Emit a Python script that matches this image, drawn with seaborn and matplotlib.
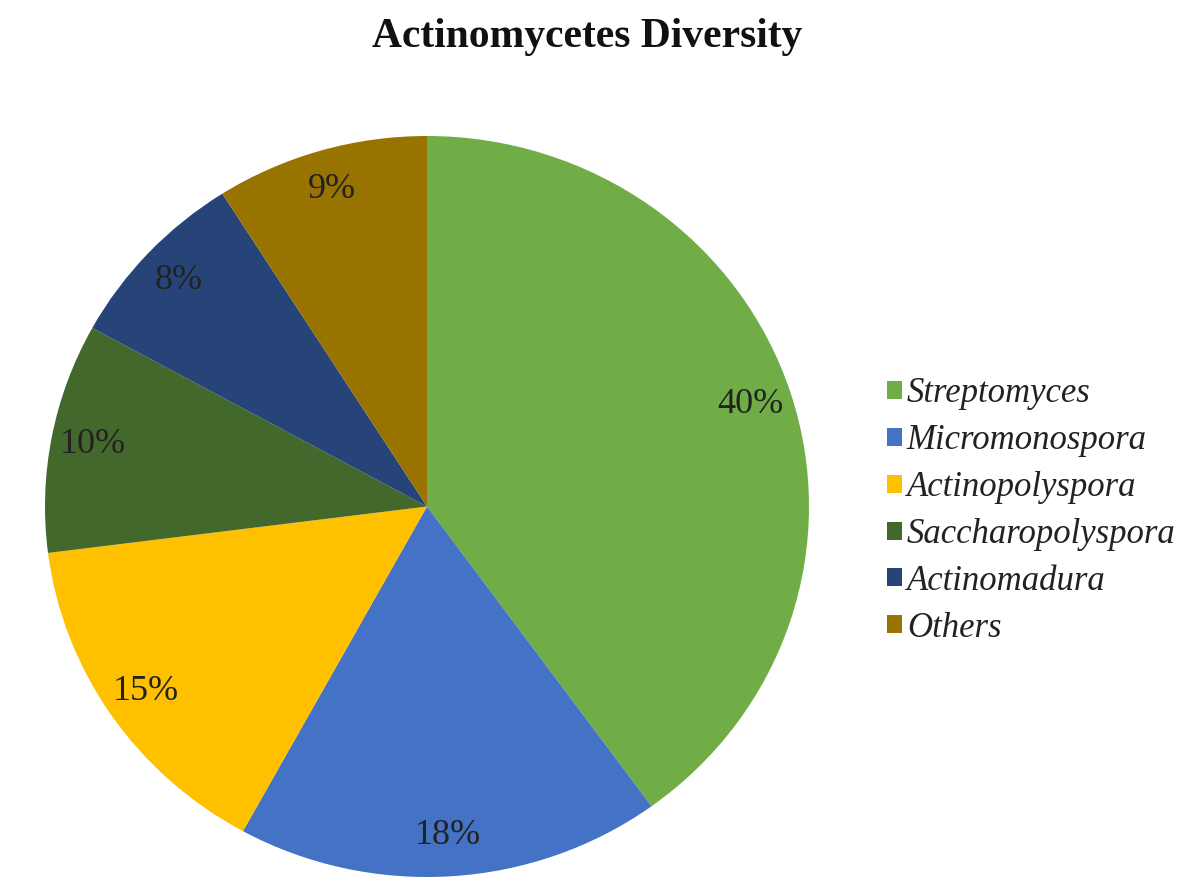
import matplotlib
matplotlib.use("Agg")
import matplotlib.pyplot as plt
import seaborn as sns

categories = ["Streptomyces", "Micromonospora", "Actinopolyspora",
              "Saccharopolyspora", "Actinomadura", "Others"]
values = [40, 18, 15, 10, 8, 9]
colors = ["#70AD47", "#4472C4", "#FFC000", "#43682B", "#264478", "#997300"]

sns.set_theme(style="white")
plt.rcParams["font.family"] = ["Liberation Serif", "DejaVu Serif"]

W, H = 1177, 884
fig = plt.figure(figsize=(W / 100, H / 100), dpi=100)
fig.patch.set_facecolor("white")

# pie area in pixels: left 45, right 809, top 136, bottom 877
ax = fig.add_axes([45 / W, (H - 877) / H, (809 - 45) / W, (877 - 136) / H])
pal = sns.color_palette(colors)
wedges, texts, autotexts = ax.pie(
    values, colors=pal, startangle=90, counterclock=False,
    autopct="%1.0f%%", pctdistance=0.89, labeldistance=None,
    wedgeprops=dict(linewidth=0),
    textprops=dict(fontsize=26, color="#222222"))
ax.set_aspect("auto")
ax.set_xlim(-1, 1)
ax.set_ylim(-1, 1)
ax.axis("off")

fig.text(0.5 * (375 + 800) / W, 1 - 37 / H, "Actinomycetes Diversity",
         ha="center", va="center", fontsize=30, fontweight="bold", color="#111111")

leg = fig.legend(wedges, categories, loc="center left",
                 bbox_to_anchor=(887 / W, 1 - 511 / H), frameon=False,
                 prop=dict(family="Liberation Serif", style="italic", size=25),
                 handlelength=0.42, handleheight=0.42, handletextpad=0.15,
                 labelspacing=0.4, borderpad=0, borderaxespad=0)
for t in leg.get_texts():
    t.set_color("#222222")

fig.savefig("out.png", dpi=100, facecolor="white")
